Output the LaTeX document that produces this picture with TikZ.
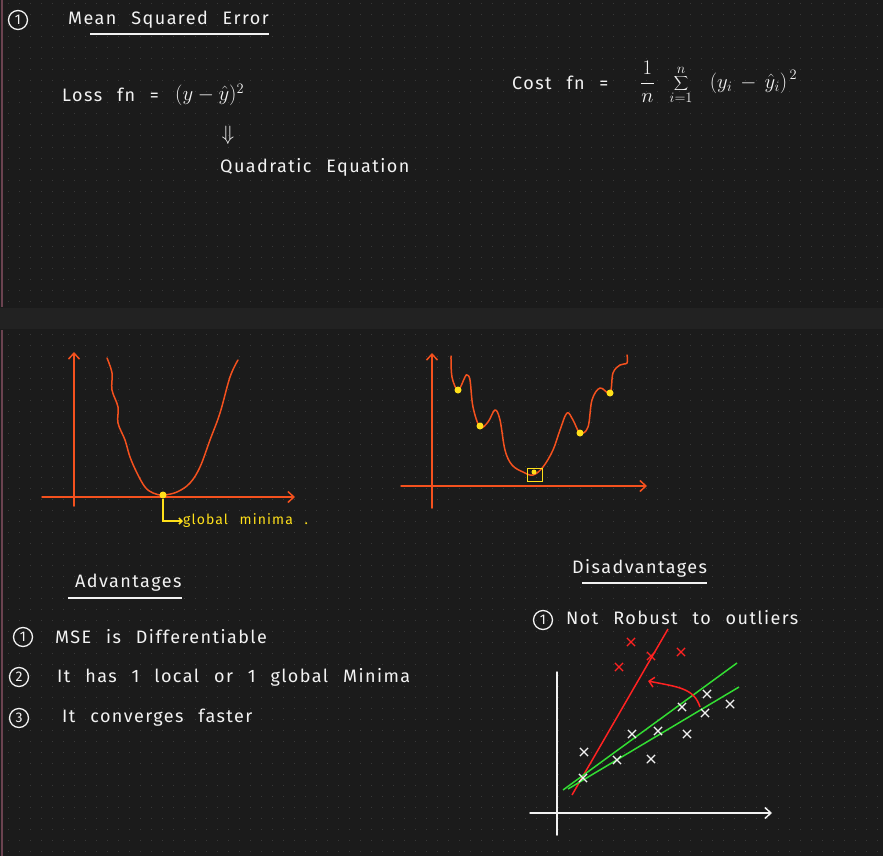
\documentclass[tikz,border=0pt]{standalone}
\usepackage{fontspec}
\setmainfont{Fira Sans}
\newfontfamily\handfont{Fira Sans}[LetterSpace=8, WordSpace=2.4]
\usetikzlibrary{arrows.meta,shapes.misc}

\definecolor{board}{HTML}{1B1B1B}
\definecolor{bandcol}{HTML}{222222}
\definecolor{dotcol}{HTML}{383838}
\definecolor{edgecol}{HTML}{6B4350}
\definecolor{curvecol}{HTML}{F4511E}
\definecolor{mincol}{HTML}{FFE01A}
\definecolor{fitcol}{HTML}{33DD33}
\definecolor{outcol}{HTML}{FF2222}
\definecolor{chalkcol}{HTML}{F2F2F2}

\tikzset{
  chalk/.style={text=chalkcol, font=\handfont\fontsize{18}{20}\selectfont, inner sep=0pt, anchor=west},
  mathchalk/.style={text=chalkcol, font=\fontsize{20}{22}\selectfont, inner sep=0pt, anchor=west},
  circled/.style={draw=chalkcol, text=chalkcol, circle, line width=1.3pt, inner sep=0pt,
    minimum size=19pt, font=\fontsize{14}{14}\selectfont},
  curve/.style={draw=curvecol, line width=1.5pt, line cap=round, line join=round},
  axis/.style={line width=1.5pt, line cap=round},
  mindot/.style={circle, fill=mincol, inner sep=0pt, minimum width=7pt, minimum height=6pt},
  xmk/.style={cross out, draw=#1, line width=1.2pt, minimum size=7pt, inner sep=0pt},
  xmk/.default=chalkcol,
  tip/.style={-{Straight Barb[length=6pt,width=11pt]}}
}

\begin{document}
\begin{tikzpicture}[x=1pt,y=-1pt]
    % Board, dot grid and page break
    \useasboundingbox (0,0) rectangle (883,856);
    \fill[board] (0,0) rectangle (883,856);
    \foreach \y in {4,15,...,856}
        \draw[dotcol, line width=1pt, dash pattern=on 1pt off 10pt] (8,\y) -- (883,\y);
    \fill[bandcol] (0,308) rectangle (883,329);
    \draw[edgecol, line width=2pt] (2,0) -- (2,307);
    \draw[edgecol, line width=2pt] (2,330) -- (2,856);

    % Mean Squared Error
    \node[circled] (c1) at (18,20) {1};
    \node[chalk] (title) at (68,20) {Mean Squared Error};
    \draw[chalkcol, line width=1.5pt] ([xshift=22pt,yshift=-5pt]title.south west) -- ([yshift=-5pt]title.south east);
    \node[chalk] (loss) at (62,95) {Loss fn =};
    \node[mathchalk] (lossexpr) at (175,95) {$(y-\hat{y})^{2}$};
    \node[text=chalkcol, font=\fontsize{20}{20}\selectfont] (impl) at (228,135) {$\Downarrow$};
    \node[chalk] (quad) at (220,167) {Quadratic Equation};
    \node[chalk] (cost) at (512,83) {Cost fn =};
    \node[mathchalk] (costsum) at (640,82) {$\displaystyle \frac{1}{n}\;\;\sum_{i=1}^{n}\;\;\;(y_i\,-\,\hat{y}_i)^{\,2}$};

    % Convex curve
    \draw[curvecol, axis, tip] (74,506) -- (74,352);
    \draw[curvecol, axis, tip] (42,497) -- (295,497);
    \draw[curve] plot[smooth, tension=0.6] coordinates {(107,358) (112,373) (112,390) (118,407) (118,423)
        (125,440) (130,457) (137,473) (145,487) (153,493) (163,495) (177,492) (190,483) (200,467)
        (210,440) (220,413) (230,377) (238,360)};
    \node[mindot] (gmin) at (163,495) {};
    \node[text=mincol, font=\handfont\fontsize{14}{16}\selectfont, anchor=west, inner sep=0pt] (gtext) at (183,521) {global minima .};
    \draw[mincol, line width=1.5pt, -{Straight Barb[length=3pt,width=6pt]}] (gmin) |- (gtext.west);

    % Non convex curve
    \draw[curvecol, axis, tip] (432,508) -- (432,353);
    \draw[curvecol, axis, tip] (401,486) -- (647,486);
    \draw[curve] plot[smooth, tension=0.6] coordinates {(451,356) (452,377) (458,390) (465,377) (467,375)
        (470,380) (473,407) (480,427) (488,422) (495,410) (500,420) (505,450) (512,465) (523,472)
        (533,475) (543,467) (553,450) (560,430) (567,413) (573,420) (580,433) (588,427) (592,400)
        (600,388) (610,393) (613,373) (620,365) (627,363) (627,355)};
    \node[mindot] (lm1) at (458,390) {};
    \node[mindot] (lm2) at (480,426) {};
    \node[mindot] (lm3) at (580,433) {};
    \node[mindot] (lm4) at (610,393) {};
    \node[mindot, minimum width=5pt, minimum height=4pt] (gm) at (534,472) {};
    \node[draw=mincol, line width=1.5pt, minimum width=15pt, minimum height=13pt, inner sep=0pt] (gbox) at (535,475) {};

    % Advantages
    \node[chalk] (adv) at (75,583) {Advantages};
    \draw[chalkcol, line width=1.5pt] ([xshift=-7pt,yshift=-6pt]adv.south west) -- ([yshift=-6pt]adv.south east);
    \node[circled] (a1) at (23,637) {1};
    \node[chalk] (adv1) at (55,637) {MSE is Differentiable};
    \node[circled] (a2) at (19,677) {2};
    \node[chalk] (adv2) at (57,677) {It has 1 local or 1 global Minima};
    \node[circled] (a3) at (19,718) {3};
    \node[chalk] (adv3) at (62,718) {It converges faster};

    % Disadvantages
    \node[chalk] (dis) at (572,568) {Disadvantages};
    \draw[chalkcol, line width=1.5pt] ([xshift=10pt,yshift=-6pt]dis.south west) -- ([yshift=-6pt]dis.south east);
    \node[circled] (d1) at (543,620) {1};
    \node[chalk] (dis1) at (566,618) {Not Robust to outliers};

    % Outlier plot
    \draw[chalkcol, axis] (557,672) -- (557,835);
    \draw[chalkcol, axis, tip] (530,813) -- (772,813);
    \coordinate (r0) at (572,795);
    \coordinate (r1) at (668,629);
    \coordinate (g0) at (563,790);
    \coordinate (g1) at (737,663);
    \coordinate (h0) at (568,789);
    \coordinate (h1) at (739,687);
    \draw[outcol, line width=1.5pt] (r0) -- (r1);
    \draw[fitcol, line width=1.5pt] (g0) -- (g1);
    \draw[fitcol, line width=1.5pt] (h0) -- (h1);
    \foreach \p [count=\i] in {(584,752),(583,778),(617,760),(632,734),(651,759),(658,731),
        (682,707),(687,734),(707,694),(705,713),(730,704)}
        \node[xmk] (w\i) at \p {};
    \foreach \p [count=\i] in {(631,642),(619,667),(651,656),(681,652)}
        \node[xmk=outcol] (o\i) at \p {};
    \coordinate (pull0) at (700,707);
    \coordinate (pull1) at (648,681);
    \draw[outcol, line width=1.5pt, -{Straight Barb[length=5pt,width=10pt]}] (pull0) .. controls (694,688) and (678,687) .. (pull1);
\end{tikzpicture}
\end{document}
